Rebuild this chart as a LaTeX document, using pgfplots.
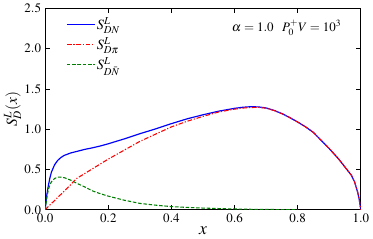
\documentclass[border=0pt]{standalone}
\usepackage{mathptmx}
\usepackage[no-math]{fontspec}
\setmainfont{Liberation Serif}
\usepackage{pgfplots}
\pgfplotsset{compat=1.18}
\definecolor{myblue}{RGB}{0,0,255}
\definecolor{myred}{RGB}{255,0,0}
\definecolor{mygreen}{RGB}{0,128,0}
\newcommand{\ls}{\rule[-4pt]{0pt}{14pt}}
\begin{document}
\begin{tikzpicture}
\begin{axis}[
  scale only axis,
  width=268pt, height=171pt,
  xmin=0, xmax=1, ymin=0, ymax=2.5,
  xtick={0,0.2,0.4,0.6,0.8,1.0},
  ytick={0,0.5,1.0,1.5,2.0,2.5},
  xticklabel style={/pgf/number format/.cd,fixed,fixed zerofill,precision=1},
  yticklabel style={/pgf/number format/.cd,fixed,fixed zerofill,precision=1},
  tick align=inside,
  major tick length=4pt,
  tick style={black, line width=0.8pt},
  axis line style={line width=0.8pt},
  tick label style={font=\fontsize{11}{12}\selectfont},
  xlabel={$x$},
  ylabel={$S_D^L(x)$},
  xlabel style={font=\fontsize{15}{15}\selectfont, yshift=4pt},
  ylabel style={font=\fontsize{13}{13}\selectfont, yshift=-4pt},
  legend style={at={(0.055,0.975)}, anchor=north west, draw=none, fill=none,
    font=\fontsize{12}{13}\selectfont, row sep=3.5pt,
    nodes={inner sep=1pt}},
  legend cell align=left,
]
\addplot[color=myblue, line width=1pt,
  legend image code/.code={\draw[myblue, line width=1pt] (0pt,0pt) -- (24pt,0pt);}] coordinates {
(0,0) (0.005,0.18) (0.01,0.30) (0.015,0.395) (0.02,0.47) (0.03,0.56) (0.04,0.615) (0.05,0.65) (0.06,0.675)
(0.08,0.705) (0.1,0.725) (0.125,0.75) (0.15,0.77) (0.175,0.793) (0.2,0.82) (0.25,0.88) (0.3,0.945)
(0.35,1.005) (0.4,1.07) (0.45,1.13) (0.5,1.18) (0.55,1.225) (0.6,1.26) (0.625,1.273) (0.65,1.28)
(0.675,1.278) (0.7,1.265) (0.725,1.235) (0.75,1.195) (0.775,1.145) (0.8,1.09) (0.825,1.03) (0.85,0.96) (0.875,0.86) (0.9,0.76) (0.915,0.695) (0.93,0.63) (0.95,0.53)
(0.96,0.48) (0.97,0.43) (0.98,0.35) (0.99,0.22) (0.995,0.13) (1.0,0)
};
\addlegendentry{\ls$S_{DN}^L$}
\addplot[color=myred, line width=0.9pt, dash pattern=on 4pt off 1.5pt on 1pt off 1.5pt,
  legend image code/.code={\draw[myred, line width=0.9pt, dash pattern=on 4pt off 1.5pt on 1pt off 1.5pt] (0pt,0pt) -- (24pt,0pt);}] coordinates {
(0,0) (0.005,0.02) (0.01,0.04) (0.02,0.08) (0.03,0.115) (0.04,0.155) (0.06,0.23)
(0.08,0.31) (0.1,0.39) (0.125,0.45) (0.15,0.51) (0.175,0.57) (0.2,0.63) (0.25,0.74) (0.3,0.85)
(0.35,0.94) (0.4,1.03) (0.45,1.10) (0.5,1.16) (0.55,1.215) (0.6,1.25) (0.625,1.263) (0.65,1.27)
(0.675,1.272) (0.7,1.262) (0.725,1.233) (0.75,1.194) (0.775,1.145) (0.8,1.09) (0.825,1.03) (0.85,0.96) (0.875,0.86) (0.9,0.76) (0.915,0.695) (0.93,0.63) (0.95,0.53)
(0.96,0.48) (0.97,0.43) (0.98,0.35) (0.99,0.22) (0.995,0.13) (1.0,0)
};
\addlegendentry{\ls$S_{D\pi}^L$}
\addplot[color=mygreen, line width=0.9pt, dash pattern=on 3pt off 1.5pt,
  legend image code/.code={\draw[mygreen, line width=0.9pt, dash pattern=on 3pt off 1.5pt] (0pt,0pt) -- (24pt,0pt);}] coordinates {
(0,0) (0.005,0.14) (0.01,0.25) (0.015,0.31) (0.02,0.35) (0.03,0.39) (0.04,0.405) (0.05,0.405) (0.06,0.40)
(0.08,0.37) (0.1,0.33) (0.125,0.285) (0.15,0.235) (0.175,0.2) (0.2,0.17) (0.25,0.12) (0.3,0.08)
(0.35,0.058) (0.4,0.04) (0.45,0.03) (0.5,0.022) (0.55,0.016) (0.6,0.011) (0.65,0.007)
(0.7,0.005) (0.75,0.003) (0.8,0.001)
};
\addlegendentry{\ls$S_{D\bar{N}}^L$}
\node[font=\fontsize{11}{12}\selectfont] at (rel axis cs:0.765,0.905) {$\alpha=1.0\;\;\; P_0^+V=10^3$};
\end{axis}
\end{tikzpicture}
\end{document}
